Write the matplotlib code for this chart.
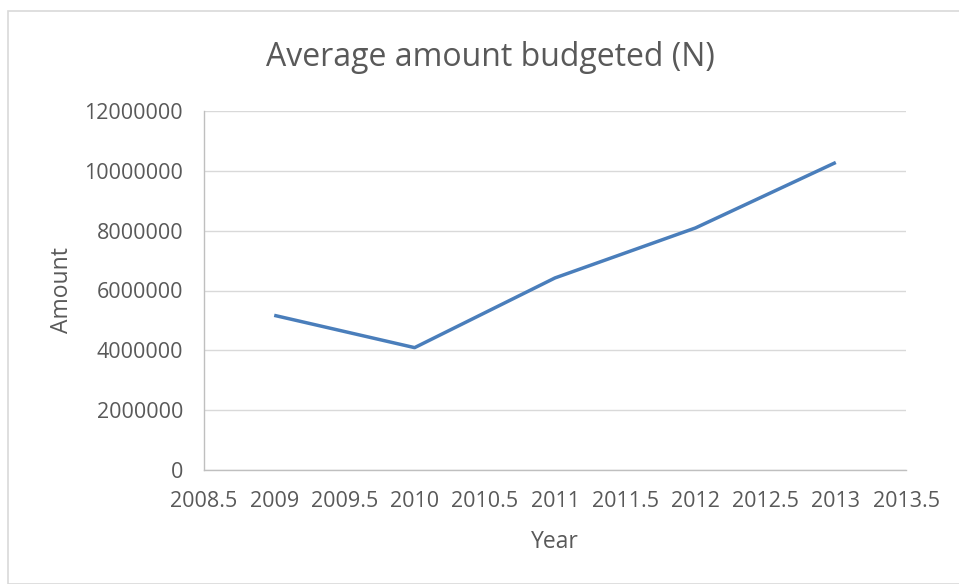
import matplotlib
matplotlib.use("Agg")
import matplotlib.pyplot as plt
from matplotlib.patches import Rectangle

# average amount budgeted per year
years = [2009, 2010, 2011, 2012, 2013]
amounts = [5170000, 4090000, 6420000, 8090000, 10280000]

x_ticks = [2008.5, 2009, 2009.5, 2010, 2010.5, 2011, 2011.5, 2012, 2012.5, 2013, 2013.5]
x_tick_labels = ["2008.5", "2009", "2009.5", "2010", "2010.5", "2011",
                 "2011.5", "2012", "2012.5", "2013", "2013.5"]
y_ticks = [0, 2000000, 4000000, 6000000, 8000000, 10000000, 12000000]
y_tick_labels = ["0", "2000000", "4000000", "6000000", "8000000", "10000000", "12000000"]

TEXT = "#595959"
FONT = ["Open Sans", "DejaVu Sans"]

plt.rcParams["font.family"] = FONT

fig = plt.figure(figsize=(9.59, 5.84), dpi=100)
fig.patch.set_facecolor("white")

# chart area border
fig.patches.append(Rectangle((8 / 959, 0), 1.2, 1 - 11 / 584, transform=fig.transFigure,
                             fill=False, edgecolor="#d9d9d9", linewidth=1.2))

ax = fig.add_axes([204 / 959, 1 - 470 / 584, 702 / 959, 359 / 584])
ax.plot(years, amounts, color="#4a7ebb", linewidth=2.5, solid_capstyle="butt")

ax.set_xlim(2008.5, 2013.5)
ax.set_ylim(0, 12000000)
ax.set_xticks(x_ticks)
ax.set_xticklabels(x_tick_labels, fontsize=15.5, color=TEXT)
ax.set_yticks(y_ticks)
ax.set_yticklabels(y_tick_labels, fontsize=15.5, color=TEXT)
ax.tick_params(axis="both", length=0)
ax.tick_params(axis="x", pad=15)
ax.tick_params(axis="y", pad=15)

ax.grid(axis="y", color="#d9d9d9", linewidth=1)
ax.set_axisbelow(True)
for side in ["top", "right"]:
    ax.spines[side].set_visible(False)
for side in ["left", "bottom"]:
    ax.spines[side].set_color("#bfbfbf")
    ax.spines[side].set_linewidth(1)

fig.text(555 / 959, 1 - 542 / 584, "Year", ha="center", va="center",
         fontsize=16.5, color=TEXT)
fig.text(62 / 959, 1 - 290 / 584, "Amount", ha="center", va="center",
         rotation=90, fontsize=16.5, color=TEXT)
fig.text(490 / 959, 1 - 58 / 584, "Average amount budgeted (N)", ha="center", va="center",
         fontsize=23, color=TEXT)

fig.savefig("out.png", dpi=100)
